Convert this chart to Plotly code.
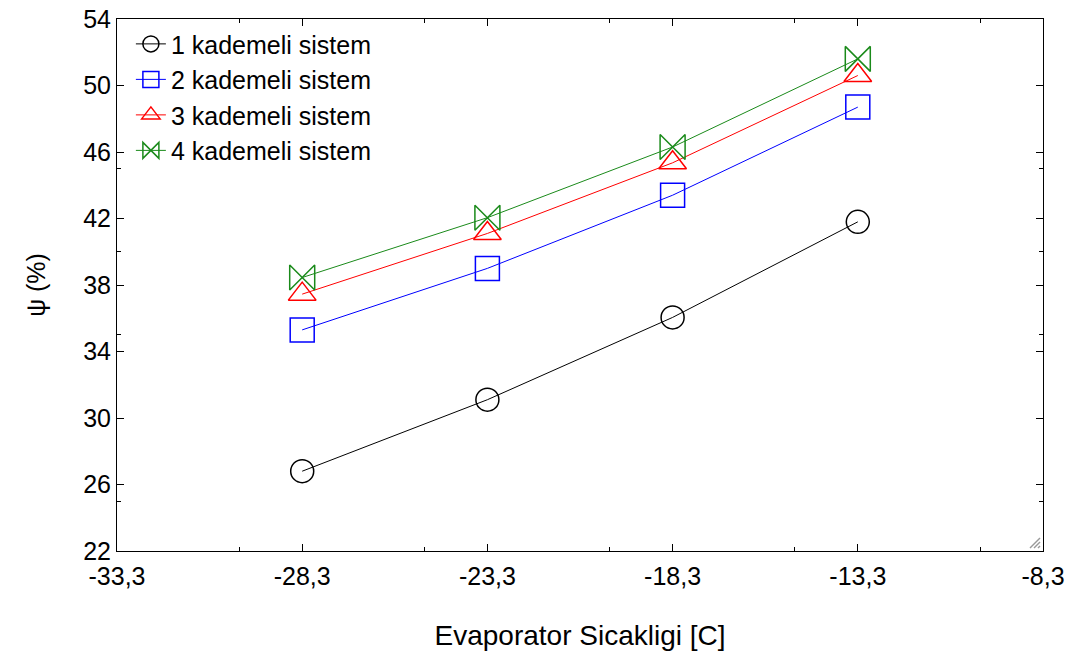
import plotly.graph_objects as go

# Evaporator temperature (C) and psi (%) per staging configuration
evap_temp = [-28.3, -23.3, -18.3, -13.3]
psi_1 = [26.8, 31.1, 36.05, 41.8]
psi_2 = [35.3, 39.0, 43.4, 48.7]
psi_3 = [37.45, 41.1, 45.35, 50.6]
psi_4 = [38.45, 42.05, 46.3, 51.6]

series_names = ["1 kademeli sistem", "2 kademeli sistem", "3 kademeli sistem", "4 kademeli sistem"]
x_ticks = [-33.3, -28.3, -23.3, -18.3, -13.3, -8.3]
x_ticktext = [f"{v:.1f}".replace(".", ",") for v in x_ticks]
y_ticks = [22, 26, 30, 34, 38, 42, 46, 50, 54]

FONT = "Liberation Sans, Arial, sans-serif"

styles = [
    dict(color="#000000", symbol="circle-open", size=23),
    dict(color="#0000ff", symbol="square-open", size=24),
    dict(color="#ff0000", symbol="triangle-up-open", size=24),
    dict(color="#1a8a1a", symbol="bowtie-open", size=25),
]

fig = go.Figure()
for name, ys, st in zip(series_names, [psi_1, psi_2, psi_3, psi_4], styles):
    fig.add_trace(go.Scatter(
        x=evap_temp, y=ys, name=name, mode="lines+markers",
        line=dict(color=st["color"], width=1),
        marker=dict(symbol=st["symbol"], size=st["size"], color=st["color"],
                    line=dict(color=st["color"], width=1.5)),
    ))

axis_common = dict(
    showline=True, linecolor="#000000", linewidth=1, mirror="allticks",
    ticks="inside", ticklen=7, tickcolor="#000000", tickwidth=1,
    showgrid=False, zeroline=False, automargin=False,
    tickfont=dict(family=FONT, size=25, color="#000000"),
    minor=dict(ticks="inside", ticklen=4, tickcolor="#000000", tickwidth=1, nticks=2, showgrid=False),
)

fig.update_xaxes(
    range=[-33.3001, -8.2999], tickvals=x_ticks, ticktext=x_ticktext,
    ticklabelstandoff=3,
    title=dict(text="Evaporator Sicakligi [C]", standoff=36,
               font=dict(family=FONT, size=28, color="#000000")),
    **axis_common,
)
fig.update_yaxes(
    range=[22, 54.0001], tickvals=y_ticks, tickformat="d",
    title=dict(text="ψ (%)", standoff=30,
               font=dict(family=FONT, size=25, color="#000000")),
    **axis_common,
)

# resize grip in the lower right corner
grip = []
for k in range(3):
    off = 5 + k * 4
    grip.append(dict(type="line", xref="paper", yref="paper",
                     x0=1 - 3 / 926, y0=off / 533, x1=1 - off / 926, y1=3 / 533,
                     line=dict(color="#999999", width=1.5)))

fig.update_layout(
    width=1067, height=658,
    margin=dict(l=117, r=24, t=19, b=107),
    paper_bgcolor="white", plot_bgcolor="white",
    separators=",.",
    showlegend=True,
    legend=dict(x=0.015, y=0.996, xanchor="left", yanchor="top",
                bgcolor="rgba(0,0,0,0)", borderwidth=0, tracegroupgap=0,
                font=dict(family=FONT, size=25, color="#000000")),
    shapes=grip,
)

fig.write_html("out.html")
